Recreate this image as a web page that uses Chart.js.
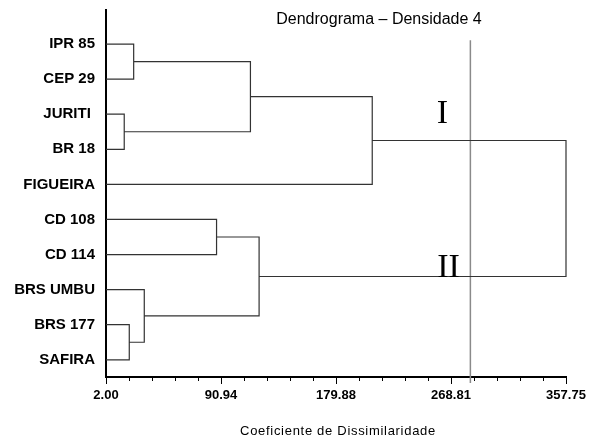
<!DOCTYPE html>
<html><head><meta charset="utf-8">
<script src="https://cdn.jsdelivr.net/npm/chart.js@4.4.0/dist/chart.umd.min.js"></script>
<style>html,body{margin:0;padding:0;background:#fff;}</style>
</head><body>
<canvas id="c" width="590" height="442"></canvas>
<script>
// ---- data ----
const leaves = ['IPR 85','CEP 29','JURITI ','BR 18','FIGUEIRA','CD 108','CD 114','BRS UMBU','BRS 177','SAFIRA'];
// merges: node ids 0..9 are leaves, merge k creates node 10+k
const mergeLeft   = [0, 2, 10, 12, 5, 8, 7, 14, 13];
const mergeRight  = [1, 3, 11, 4, 6, 9, 15, 16, 17];
const mergeHeight = [23.4, 16.1, 113.7, 207.9, 87.5, 20.0, 31.6, 120.4, 357.75];
const xTickValues = [2.00, 90.9375, 179.875, 268.8125, 357.75];
const xTickLabels = ['2.00','90.94','179.88','268.81','357.75'];
const cutHeight = 283.8;
const groupLabels = ['I','II'];
const titleText = 'Dendrograma \u2013 Densidade 4';
const xTitleText = 'Coeficiente de Dissimilaridade';

// ---- build dendrogram path ----
const X_MIN = 2.00, X_MAX = 357.75;
const nodeX = leaves.map(() => X_MIN);
const nodeY = leaves.map((_, i) => i);
const segs = [];
mergeHeight.forEach((h, k) => {
  const a = mergeLeft[k], b = mergeRight[k];
  segs.push({x: nodeX[a], y: nodeY[a]}, {x: h, y: nodeY[a]}, {x: h, y: nodeY[b]}, {x: nodeX[b], y: nodeY[b]}, {x: null, y: null});
  nodeX.push(h);
  nodeY.push((nodeY[a] + nodeY[b]) / 2);
});

const decor = {
  id: 'decor',
  afterDraw(chart) {
    const {ctx, chartArea, scales} = chart;
    const xs = scales.x, ys = scales.y;
    ctx.save();
    // minor ticks
    ctx.strokeStyle = '#000'; ctx.lineWidth = 1;
    const step = (X_MAX - X_MIN) / 20;
    for (let k = 1; k < 20; k++) {
      if (k % 5 === 0) continue;
      const px = Math.round(xs.getPixelForValue(X_MIN + k * step)) + 0.5;
      ctx.beginPath(); ctx.moveTo(px, chartArea.bottom); ctx.lineTo(px, chartArea.bottom + 4); ctx.stroke();
    }
    // title
    ctx.fillStyle = '#000';
    ctx.textAlign = 'center'; ctx.textBaseline = 'alphabetic';
    ctx.font = '16px "Liberation Sans", Arial, sans-serif';
    ctx.fillText(titleText, 379, 24);
    // x title
    ctx.font = '13px "Liberation Sans", Arial, sans-serif';
    try { ctx.letterSpacing = '0.7px'; } catch(e) {}
    ctx.fillText(xTitleText, (chartArea.left + chartArea.right) / 2 + 2, 435);
    try { ctx.letterSpacing = '0px'; } catch(e) {}
    // group labels
    ctx.font = '34px "Liberation Serif", "Times New Roman", serif';
    ctx.fillText(groupLabels[0], xs.getPixelForValue(262.2), ys.getPixelForValue(2.26));
    ctx.fillText(groupLabels[1], xs.getPixelForValue(266.9), ys.getPixelForValue(6.64));
    ctx.restore();
  }
};

new Chart(document.getElementById('c'), {
  type: 'scatter',
  data: {
    datasets: [
      { data: segs, showLine: true, spanGaps: false, borderColor: '#333', borderWidth: 1.2,
        pointRadius: 0, clip: false },
      { data: [{x: cutHeight, y: -0.11}, {x: cutHeight, y: 9.66}], showLine: true,
        borderColor: '#8a8a8a', borderWidth: 1.5, pointRadius: 0, clip: false }
    ]
  },
  options: {
    responsive: false, animation: false, devicePixelRatio: 1,
    layout: { padding: { left: 0, right: 24, top: 10, bottom: 0 } },
    plugins: { legend: { display: false }, tooltip: { enabled: false }, title: { display: false } },
    scales: {
      x: {
        type: 'linear', min: X_MIN, max: X_MAX,
        afterBuildTicks: s => { s.ticks = xTickValues.map(v => ({value: v})); },
        afterFit: s => { s.height = 65; s.paddingLeft = 0; s.paddingRight = 0; },
        ticks: { callback: (v, i) => xTickLabels[i], color: '#000', autoSkip: false, maxRotation: 0, padding: 4,
                 font: { family: '"Liberation Sans", Arial, sans-serif', size: 13, weight: 'bold' } },
        grid: { display: true, drawOnChartArea: false, drawTicks: true, tickLength: 7, tickColor: '#000', tickWidth: 1 },
        border: { display: true, color: '#000', width: 2 }
      },
      y: {
        type: 'linear', reverse: true, min: -0.97, max: 9.49,
        afterBuildTicks: s => { s.ticks = leaves.map((_, i) => ({value: i})); },
        afterFit: s => { s.width = 106; s.paddingTop = 0; s.paddingBottom = 0; },
        ticks: { callback: (v, i) => leaves[i], color: '#000', autoSkip: false, padding: 11,
                 font: { family: '"Liberation Sans", Arial, sans-serif', size: 15, weight: 'bold' } },
        grid: { display: false, drawTicks: false },
        border: { display: true, color: '#000', width: 2 }
      }
    }
  },
  plugins: [decor]
});
</script>
</body></html>
